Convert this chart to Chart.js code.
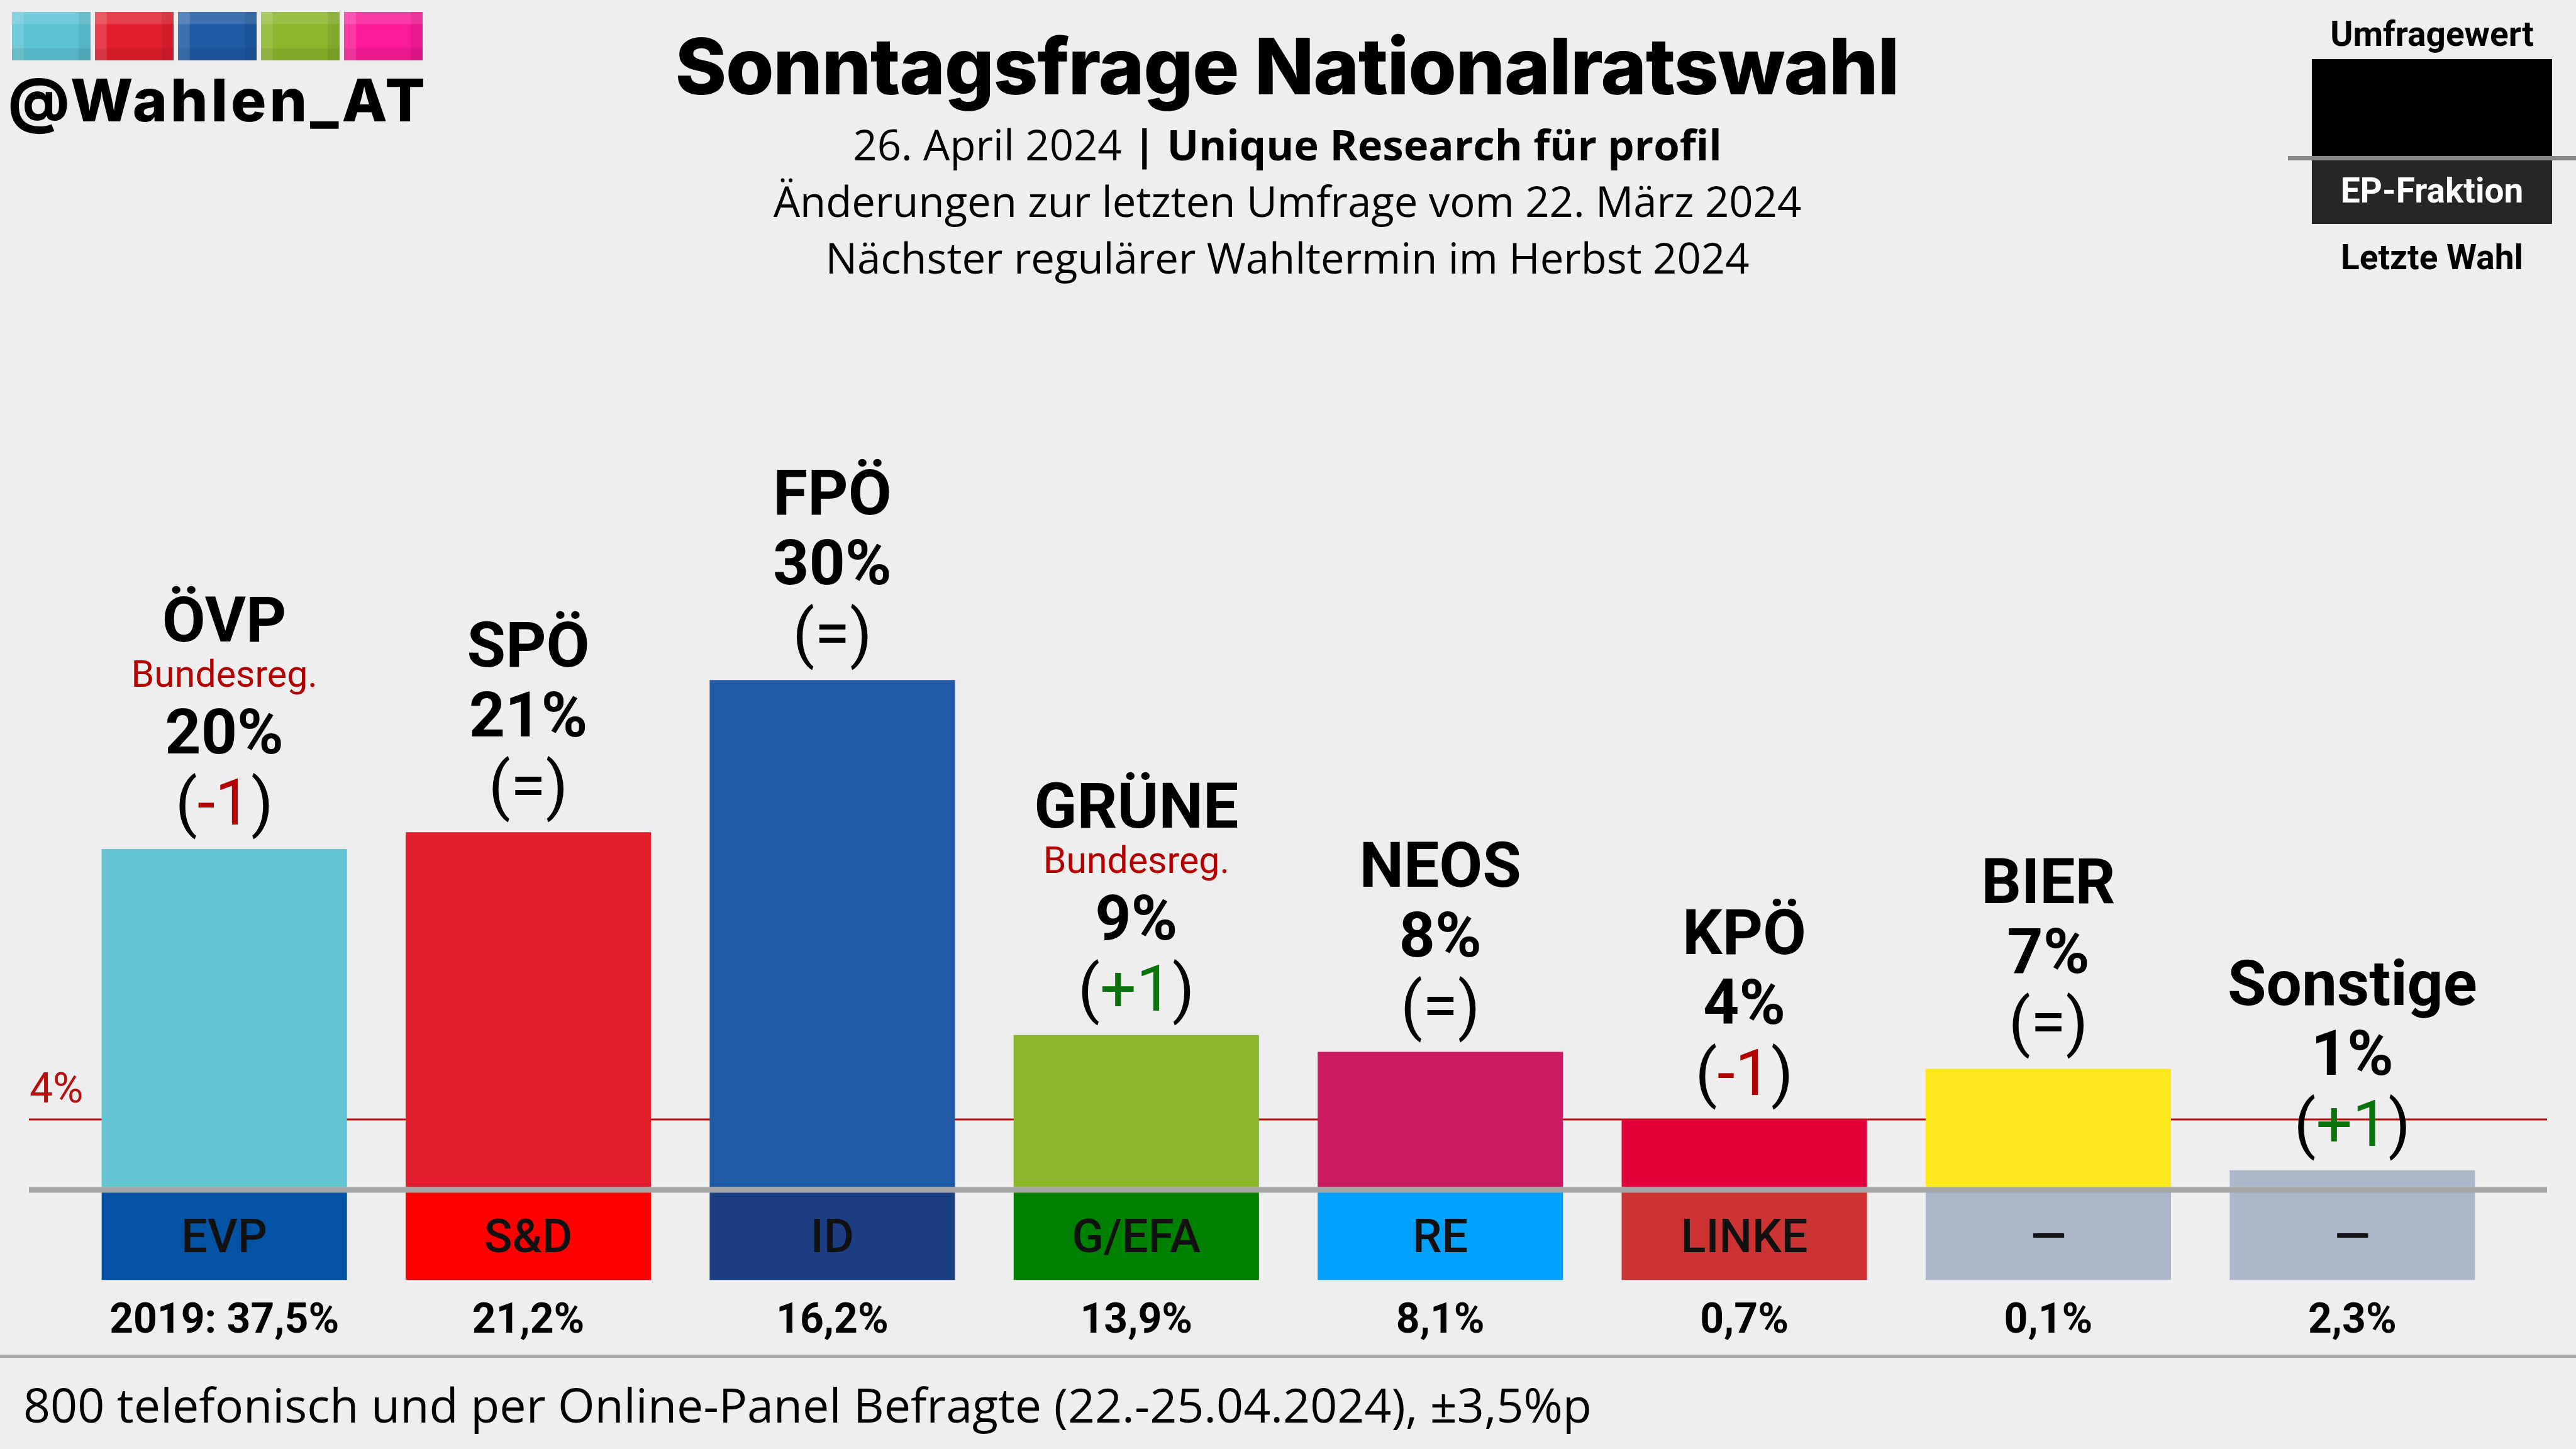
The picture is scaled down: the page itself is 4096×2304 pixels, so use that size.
<!DOCTYPE html>
<html lang="de">
<head>
<meta charset="utf-8">
<title>Sonntagsfrage Nationalratswahl</title>
<script src="https://cdn.jsdelivr.net/npm/chart.js@4/dist/chart.umd.min.js"></script>
<style>
  html, body { margin: 0; padding: 0; background: #eeeeee; overflow: hidden; }
  #chart { display: block; width: 4096px; height: 2304px; }
</style>
</head>
<body>
<canvas id="chart" width="4096" height="2304"></canvas>
<script>
// Daten
const parteien = ['ÖVP', 'SPÖ', 'FPÖ', 'GRÜNE', 'NEOS', 'KPÖ', 'BIER', 'Sonstige'];
const umfragewerte = [20, 21, 30, 9, 8, 4, 7, 1];
const aenderungen = ['-1', '=', '=', '+1', '=', '-1', '=', '+1'];
const hinweise = ['Bundesreg.', '', '', 'Bundesreg.', '', '', '', ''];
const epFraktionen = ['EVP', 'S&D', 'ID', 'G/EFA', 'RE', 'LINKE', '—', '—'];
const letzteWahl = ['2019: 37,5%', '21,2%', '16,2%', '13,9%', '8,1%', '0,7%', '0,1%', '2,3%'];
const huerde = 4;

const parteiFarben = ['#65c4d1', '#e31f2f', '#215ba5', '#8ab62b', '#cc1a63', '#e3003a', '#fce81b', '#adb7ca'];
const epFarben = ['#0352a3', '#ff0000', '#1c3f83', '#008000', '#00a2fb', '#cd3333', '#adb7ca', '#adb7ca'];
const logoFarben = ['#5cc3d3', '#e31f2e', '#1f5aa4', '#8ab62b', '#fb1a98'];

// Feld unter der Nulllinie für die EP-Fraktion (in Skaleneinheiten)
const EP_SPANNE = [-0.3, -5.5];

const texte = {
    titel: 'Sonntagsfrage Nationalratswahl',
    datum: '26. April 2024 ',
    institut: '| Unique Research für profil',
    zeile2: 'Änderungen zur letzten Umfrage vom 22. März 2024',
    zeile3: 'Nächster regulärer Wahltermin im Herbst 2024',
    fuss: '800 telefonisch und per Online-Panel Befragte (22.-25.04.2024), ±3,5%p',
    handle: '@Wahlen_AT'
};

// Schriftgröße so wählen, dass der Text die Zielbreite hat
function passendeGroesse(ctx, text, gewicht, familie, breite) {
    ctx.font = `${gewicht} 100px ${familie}`;
    return 100 * breite / ctx.measureText(text).width;
}

// Text mit fester Größe über Zeichenabstand auf Breite bringen
function gespreizt(ctx, text, x, y, breite) {
    ctx.letterSpacing = '0px';
    const w = ctx.measureText(text).width;
    const abstand = (breite - w) / (text.length - 1);
    ctx.letterSpacing = abstand.toFixed(2) + 'px';
    ctx.fillText(text, x, y);
    ctx.letterSpacing = '0px';
}

function zeichneAenderung(ctx, x, y, wert) {
    const farbe = wert.startsWith('-') ? '#b30000' : wert.startsWith('+') ? '#0b730b' : '#000';
    ctx.font = '400 102px Roboto';
    const teile = [['(', '#000'], [wert, farbe], [')', '#000']];
    const breite = teile.reduce((s, [t]) => s + ctx.measureText(t).width, 0);
    let cx = x - breite / 2;
    ctx.textAlign = 'left';
    teile.forEach(([t, f]) => {
        ctx.fillStyle = f;
        ctx.fillText(t, cx, y);
        cx += ctx.measureText(t).width;
    });
}

const dekoPlugin = {
    id: 'umfrageDeko',

    beforeDraw(chart) {
        const ctx = chart.ctx;
        ctx.save();
        ctx.fillStyle = '#eeeeee';
        ctx.fillRect(0, 0, chart.width, chart.height);

        // Logo
        logoFarben.forEach((f, i) => {
            const x = 19 + i * 132, y = 19, w = 125, h = 77;
            ctx.fillStyle = f;
            ctx.fillRect(x, y, w, h);
            ctx.fillStyle = 'rgba(255,255,255,0.14)';
            ctx.fillRect(x, y, w * 0.15, h);
            ctx.fillRect(x, y, w, h * 0.25);
            ctx.fillStyle = 'rgba(0,0,0,0.07)';
            ctx.fillRect(x, y + h * 0.75, w, h * 0.25);
            ctx.fillRect(x + w * 0.85, y, w * 0.15, h);
        });
        ctx.fillStyle = '#000';
        ctx.textAlign = 'left';
        ctx.textBaseline = 'alphabetic';
        ctx.font = '800 94px Inter';
        gespreizt(ctx, texte.handle, 13, 193, 666);

        // Titel
        ctx.font = '800 124px Inter';
        gespreizt(ctx, texte.titel, 2047 - 1947 / 2, 150, 1947);

        // Unterzeilen
        const gr = passendeGroesse(ctx, texte.zeile2, 400, '"Open Sans"', 1635);
        ctx.textAlign = 'center';
        ctx.font = `400 ${gr}px "Open Sans"`;
        ctx.fillText(texte.zeile2, 2047, 345);
        ctx.fillText(texte.zeile3, 2047, 435);
        const w1 = ctx.measureText(texte.datum).width;
        ctx.font = `700 ${gr}px "Open Sans"`;
        const w2 = ctx.measureText(texte.institut).width;
        const start = 2047 - (w1 + w2) / 2;
        ctx.textAlign = 'left';
        ctx.font = `400 ${gr}px "Open Sans"`;
        ctx.fillText(texte.datum, start, 255);
        ctx.font = `700 ${gr}px "Open Sans"`;
        ctx.fillText(texte.institut, start + w1, 255);

        // Legende oben rechts
        ctx.textAlign = 'center';
        ctx.fillStyle = '#000';
        ctx.font = '700 55px Roboto';
        ctx.fillText('Umfragewert', 3867, 73);
        ctx.fillRect(3676, 94, 382, 154);
        ctx.fillStyle = '#262626';
        ctx.fillRect(3676, 254, 382, 102);
        ctx.fillStyle = '#888888';
        ctx.fillRect(3638, 248, 458, 7);
        ctx.fillStyle = '#ffffff';
        ctx.fillText('EP-Fraktion', 3867, 322);
        ctx.fillStyle = '#000';
        ctx.fillText('Letzte Wahl', 3867, 428);

        // Fußzeile
        ctx.fillStyle = '#aaaaaa';
        ctx.fillRect(0, 2154, chart.width, 5);
        const fg = passendeGroesse(ctx, texte.fuss, 400, '"Open Sans"', 2494);
        ctx.fillStyle = '#000';
        ctx.textAlign = 'left';
        ctx.font = `400 ${fg}px "Open Sans"`;
        ctx.fillText(texte.fuss, 37, 2262);
        ctx.restore();
    },

    beforeDatasetsDraw(chart) {
        const ctx = chart.ctx;
        const y = chart.scales.y.getPixelForValue(huerde);
        ctx.save();
        ctx.fillStyle = '#b80f0f';
        ctx.fillRect(46, y - 1.5, 4004, 3);
        ctx.font = '400 66px Roboto';
        ctx.textAlign = 'left';
        ctx.fillText(huerde + '%', 47, y - 27);
        ctx.restore();
    },

    afterDatasetsDraw(chart) {
        const ctx = chart.ctx;
        const y0 = chart.scales.y.getPixelForValue(0);
        const balken = chart.getDatasetMeta(0).data;
        const felder = chart.getDatasetMeta(1).data;
        ctx.save();
        ctx.fillStyle = '#a6a6a6';
        ctx.fillRect(46, y0, 4004, 9);

        ctx.textBaseline = 'alphabetic';
        balken.forEach((b, i) => {
            const x = b.x, oben = b.y;
            zeichneAenderung(ctx, x, oben - 39, aenderungen[i]);
            ctx.textAlign = 'center';
            ctx.fillStyle = '#000';
            ctx.font = '700 100px Roboto';
            ctx.fillText(umfragewerte[i] + '%', x, oben - 152);
            if (hinweise[i]) {
                ctx.font = '400 59px Roboto';
                ctx.fillStyle = '#b30000';
                ctx.fillText(hinweise[i], x, oben - 258);
                ctx.fillStyle = '#000';
                ctx.font = '700 100px Roboto';
                ctx.fillText(parteien[i], x, oben - 330);
            } else {
                ctx.fillText(parteien[i], x, oben - 263);
            }
        });

        felder.forEach((f, i) => {
            const mitte = (f.y + f.base) / 2;
            const unten = Math.max(f.y, f.base);
            ctx.textAlign = 'center';
            ctx.fillStyle = '#111';
            ctx.font = '500 74px Roboto';
            ctx.fillText(epFraktionen[i], f.x, mitte + 26);
            ctx.fillStyle = '#000';
            ctx.font = '700 66px Roboto';
            ctx.fillText(letzteWahl[i], f.x, unten + 84);
        });
        ctx.restore();
    }
};

const Umfrage = {
    chart: null,

    init() {
        const ctx = document.getElementById('chart').getContext('2d');
        this.chart = new Chart(ctx, {
            type: 'bar',
            data: {
                labels: parteien,
                datasets: [{
                    label: 'Umfragewert',
                    data: umfragewerte,
                    backgroundColor: parteiFarben,
                    barPercentage: 0.807,
                    categoryPercentage: 1
                }, {
                    label: 'EP-Fraktion',
                    data: epFraktionen.map(() => EP_SPANNE),
                    backgroundColor: epFarben,
                    barPercentage: 0.807,
                    categoryPercentage: 1
                }]
            },
            options: {
                responsive: false,
                devicePixelRatio: 1,
                animation: false,
                layout: { padding: { left: 115, right: 114, top: 920, bottom: 266 } },
                scales: {
                    x: { stacked: true, display: false },
                    y: { stacked: false, display: false, min: -5.6, max: 36 }
                },
                plugins: {
                    legend: { display: false },
                    tooltip: { enabled: false }
                }
            },
            plugins: [dekoPlugin]
        });
    }
};

Promise.all([
    document.fonts.load('700 100px Roboto'),
    document.fonts.load('400 100px Roboto'),
    document.fonts.load('500 100px Roboto'),
    document.fonts.load('800 100px Inter'),
    document.fonts.load('400 100px "Open Sans"'),
    document.fonts.load('700 100px "Open Sans"')
]).catch(() => null).then(() => Umfrage.init());
</script>
</body>
</html>
